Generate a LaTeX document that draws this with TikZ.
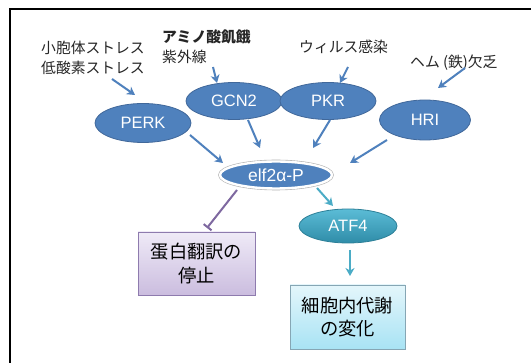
\documentclass[tikz,border=0pt]{standalone}
\usepackage{fontspec}
\setmainfont{Liberation Sans}
\newfontfamily\jp{Noto Sans CJK JP}
\usetikzlibrary{arrows.meta,shapes.geometric}
\definecolor{enzblue}{HTML}{4F81BD}
\definecolor{enzline}{HTML}{41689A}
\definecolor{arrblue}{HTML}{4F81BD}
\definecolor{teal1}{HTML}{5BBCD6}
\definecolor{teal2}{HTML}{2F8CA8}
\definecolor{tealline}{HTML}{2D8098}
\definecolor{arrteal}{HTML}{4BACC6}
\definecolor{purtop}{HTML}{EFEAF7}
\definecolor{purbot}{HTML}{CBBDDF}
\definecolor{purline}{HTML}{8E7BAE}
\definecolor{arrpur}{HTML}{7E68A0}
\definecolor{cyantop}{HTML}{E4F6FB}
\definecolor{cyanbot}{HTML}{A8E3F4}
\definecolor{cyanline}{HTML}{86A6B4}
\begin{document}
\begin{tikzpicture}[x=1pt,y=-1pt,
  enz/.style={ellipse,fill=enzblue,draw=enzline,line width=0.8pt,text=white,
    font=\fontsize{16.5}{18}\selectfont,inner sep=0pt},
  lbl/.style={font=\jp\fontsize{14.8}{16}\selectfont,text=black!85,anchor=west,inner sep=0pt},
  boxtxt/.style={font=\jp\fontsize{18.3}{23.5}\selectfont,align=center,inner sep=0pt},
  arr/.style={draw=arrblue,line width=2pt,-{Stealth[length=8pt,width=9pt,inset=2.5pt]}},
  tarr/.style={draw=arrteal,line width=2pt,-{Stealth[length=8pt,width=9pt,inset=2.5pt]}},
  inh/.style={draw=arrpur,line width=2pt,-{Bar[width=10pt,line width=2pt]}}
]
\useasboundingbox (0,0) rectangle (531,363);
\fill[white] (0,0) rectangle (531,363);
\draw[line width=2pt,black] (9.5,363) -- (9.5,9.5) -- (531,9.5);
% labels
\node[lbl] (er) at (41,48) {小胞体ストレス};
\node[lbl] (hyp) at (41,68) {低酸素ストレス};
\node[lbl,font=\jp\bfseries\fontsize{14.8}{16}\selectfont] (aa) at (162,37) {アミノ酸飢餓};
\node[lbl] (uv) at (162,57) {紫外線};
\node[lbl] (vir) at (299,47) {ウィルス感染};
\node[lbl] (heme) at (410,63) {ヘム (鉄)欠乏};
% enzymes
\node[enz,minimum width=96pt,minimum height=39pt] (perk) at (143,123) {PERK};
\node[enz,minimum width=96pt,minimum height=37pt] (gcn2) at (234,101) {GCN2};
\node[enz,minimum width=96pt,minimum height=37pt] (pkr) at (328,101) {PKR};
\node[enz,minimum width=91pt,minimum height=40pt] (hri) at (425,120) {HRI};
\node[enz,draw=white,line width=2.4pt,preaction={draw=black!30,line width=3.6pt},
  font=\fontsize{17.5}{19}\selectfont,
  minimum width=112pt,minimum height=27pt] (elf) at (276,175) {elf2α-P};
\node[ellipse,top color=teal1,bottom color=teal2,draw=tealline,line width=0.8pt,
  text=white,font=\fontsize{16.5}{18}\selectfont,inner sep=0pt,
  minimum width=98pt,minimum height=34pt] (atf) at (348,226) {ATF4};
\node[rectangle,top color=purtop,bottom color=purbot,draw=purline,line width=0.8pt,
  minimum width=117pt,minimum height=63pt,boxtxt] (stop) at (196.5,263.5) {蛋白翻訳の\\停止};
\node[rectangle,top color=cyantop,bottom color=cyanbot,draw=cyanline,line width=0.8pt,
  minimum width=115pt,minimum height=64pt,boxtxt] (meta) at (347.5,317) {細胞内代謝\\の変化};
% arrow end points
\coordinate (s1) at (112,79); \coordinate (t1) at (135,95);
\coordinate (s2) at (213,67); \coordinate (t2) at (217,83);
\coordinate (s3) at (348,67); \coordinate (t3) at (340,83);
\coordinate (s4) at (465,68); \coordinate (t4) at (438,88);
\coordinate (u1) at (190,135); \coordinate (v1) at (223,163);
\coordinate (u2) at (248,120); \coordinate (v2) at (260,148);
\coordinate (u3) at (330,120); \coordinate (v3) at (313,148);
\coordinate (u4) at (387,140); \coordinate (v4) at (350,163);
\coordinate (w1) at (317,188); \coordinate (z1) at (333,206);
\coordinate (w2) at (237,190); \coordinate (z2) at (207,228);
\coordinate (w3) at (350,250); \coordinate (z3) at (350,276);
\draw[arr] (s1) -- (t1);
\draw[arr] (s2) -- (t2);
\draw[arr] (s3) -- (t3);
\draw[arr] (s4) -- (t4);
\draw[arr] (u1) -- (v1);
\draw[arr] (u2) -- (v2);
\draw[arr] (u3) -- (v3);
\draw[arr] (u4) -- (v4);
\draw[tarr] (w1) -- (z1);
\draw[inh] (w2) -- (z2);
\draw[tarr] (w3) -- (z3);
\end{tikzpicture}
\end{document}
